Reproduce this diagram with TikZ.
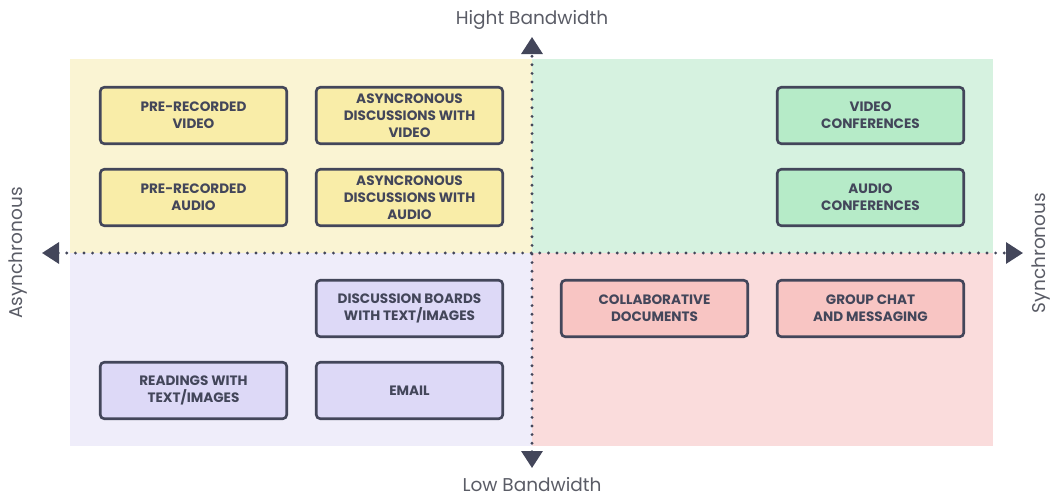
\documentclass[tikz,border=0pt]{standalone}
\usepackage{fontspec}
\setmainfont{Poppins}
\usetikzlibrary{arrows.meta}

\definecolor{ink}{HTML}{43465A}
\definecolor{axisgray}{HTML}{5A5C66}
\definecolor{ybg}{HTML}{FAF4D3}
\definecolor{ybox}{HTML}{F9EDA8}
\definecolor{gbg}{HTML}{D6F2E0}
\definecolor{gbox}{HTML}{B6EBC8}
\definecolor{pbg}{HTML}{EFEDFA}
\definecolor{pbox}{HTML}{DDD9F7}
\definecolor{rbg}{HTML}{FADCDC}
\definecolor{rbox}{HTML}{F8C5C3}

\tikzset{
  card/.style={draw=ink, line width=2.6pt, rounded corners=4pt,
    minimum width=186.5pt, minimum height=56.5pt, inner sep=0pt,
    align=center, text=ink,
    font=\fontsize{13.6}{16.8}\selectfont\bfseries},
  axisline/.style={draw=ink, line width=3.2pt, line cap=round,
    dash pattern=on 0pt off 8.6pt,
    {Triangle[length=17pt,width=21pt]}-{Triangle[length=17pt,width=21pt]}},
  axislabel/.style={text=axisgray, inner sep=0pt,
    font=\fontsize{18.5}{22}\selectfont},
}

\begin{document}
\begin{tikzpicture}[x=1pt,y=-1pt]
  \useasboundingbox (0,0) rectangle (1060,498);

  % quadrant backgrounds
  \fill[ybg] (70,59) rectangle (532,253);
  \fill[gbg] (532,59) rectangle (993,253);
  \fill[pbg] (70,253) rectangle (532,446);
  \fill[rbg] (532,253) rectangle (993,446);

  % axes
  \coordinate (top) at (532,37);
  \coordinate (bottom) at (532,468);
  \coordinate (left) at (42,253);
  \coordinate (right) at (1023,253);
  \draw[axisline] (bottom) -- (top);
  \draw[axisline] (left) -- (right);

  % axis labels
  \node[axislabel] (hi) at (532,20) {Hight Bandwidth};
  \node[axislabel] (lo) at (532,485) {Low Bandwidth};
  \node[axislabel, rotate=90] (asy) at (18,253) {Asynchronous};
  \node[axislabel, rotate=90] (syn) at (1041,253) {Synchronous};

  % high bandwidth, asynchronous
  \node[card, fill=ybox] (prv) at (193.5,115.5) {PRE-RECORDED\\VIDEO};
  \node[card, fill=ybox] (adv) at (409.5,115.5) {ASYNCRONOUS\\DISCUSSIONS WITH\\VIDEO};
  \node[card, fill=ybox] (pra) at (193.5,197.5) {PRE-RECORDED\\AUDIO};
  \node[card, fill=ybox] (ada) at (409.5,197.5) {ASYNCRONOUS\\DISCUSSIONS WITH\\AUDIO};

  % high bandwidth, synchronous
  \node[card, fill=gbox] (vc) at (870.5,115.5) {VIDEO\\CONFERENCES};
  \node[card, fill=gbox] (ac) at (870.5,197.5) {AUDIO\\CONFERENCES};

  % low bandwidth, asynchronous
  \node[card, fill=pbox] (db) at (409.5,308.5) {DISCUSSION BOARDS\\WITH TEXT/IMAGES};
  \node[card, fill=pbox] (rd) at (193.5,390.5) {READINGS WITH\\TEXT/IMAGES};
  \node[card, fill=pbox] (em) at (409.5,390.5) {EMAIL};

  % low bandwidth, synchronous
  \node[card, fill=rbox] (cd) at (654.5,308.5) {COLLABORATIVE\\DOCUMENTS};
  \node[card, fill=rbox] (gc) at (870.5,308.5) {GROUP CHAT\\AND MESSAGING};
\end{tikzpicture}
\end{document}
